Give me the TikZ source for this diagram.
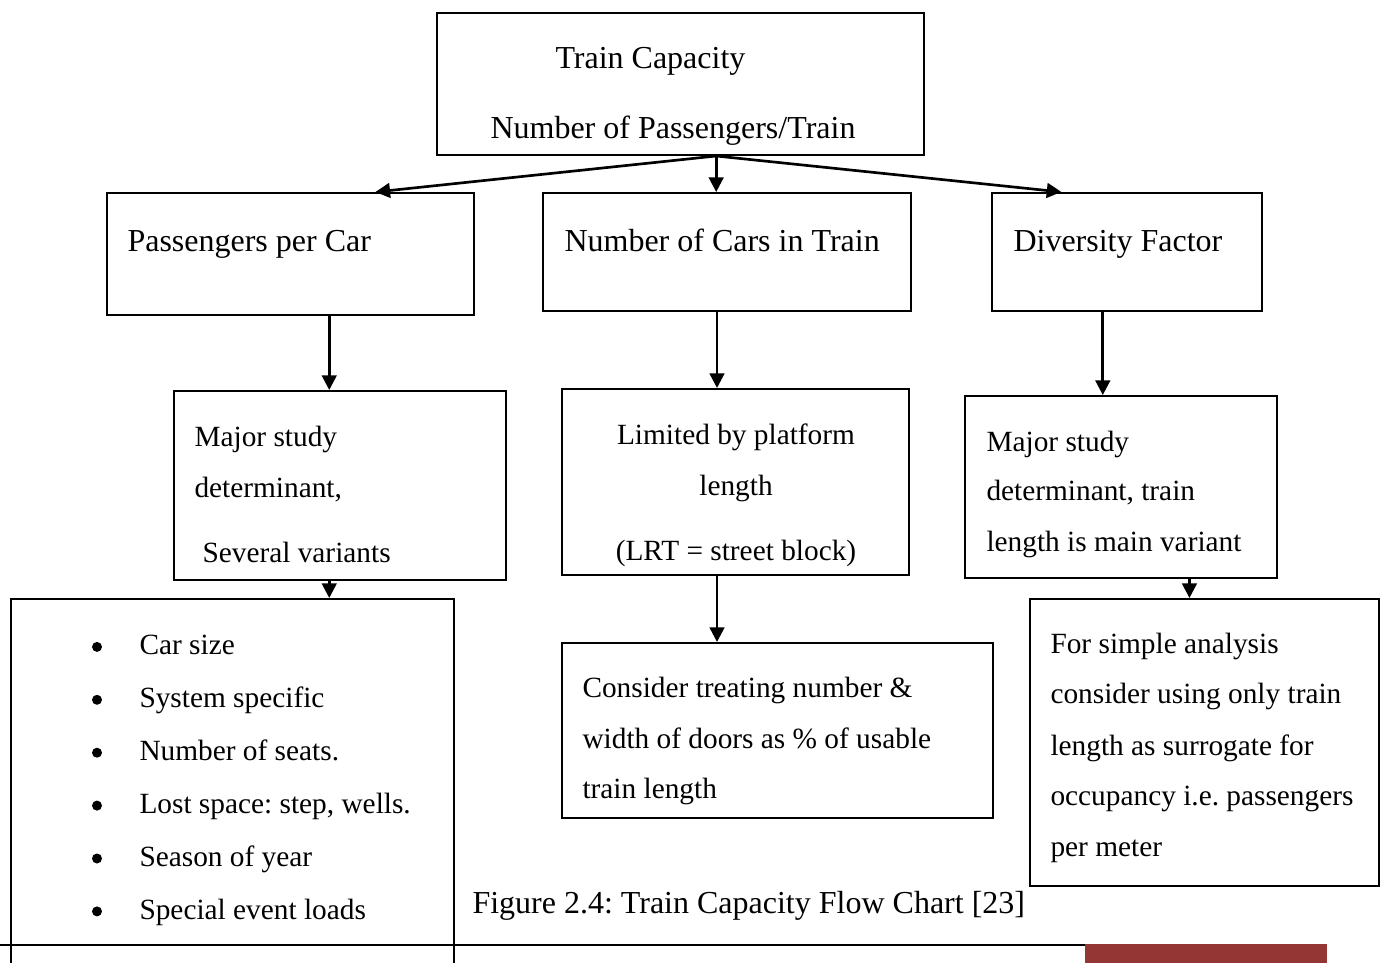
\documentclass[tikz,border=0pt]{standalone}
\usepackage{fontspec}
\setmainfont{Liberation Serif}
\usetikzlibrary{arrows.meta,calc}
\frenchspacing
\tikzset{every picture/.style={line width=0.75pt}}
\tikzset{
  box/.style 2 args={draw, line width=1.5pt, inner sep=0pt, minimum width=#1*0.75pt, minimum height=#2*0.75pt},
  txt/.style={anchor=base west, inner sep=0pt, font=\fontsize{24}{28}\selectfont},
  stxt/.style={anchor=base west, inner sep=0pt, font=\fontsize{22}{26}\selectfont},
  sctxt/.style={anchor=base, inner sep=0pt, font=\fontsize{22}{26}\selectfont},
  dot/.style={circle, fill, inner sep=0pt, minimum size=7.5pt},
  arr/.style={line width=2pt, -{Triangle[length=11pt,width=11pt]}}
}

\begin{document}
\begin{tikzpicture}[x=0.75pt,y=0.75pt,yscale=-1,xscale=1]
\useasboundingbox (0,0) rectangle (1385,963);
\clip (0,0) rectangle (1385,963);

%Boxes
\node[box={487}{142}] (cap) at (680.5,84) {};
\node[box={367}{122}] (ppc) at (290.5,254) {};
\node[box={368}{118}] (ncars) at (727,252) {};
\node[box={270}{118}] (div) at (1127,252) {};
\node[box={332}{189}] (det) at (340,485.5) {};
\node[box={347}{186}] (lim) at (735.5,482) {};
\node[box={312}{182}] (maj) at (1121,487) {};
\node[box={443}{391}] (list) at (232.5,794.5) {};
\node[box={431}{175}] (cons) at (777.5,730.5) {};
\node[box={349}{287}] (simple) at (1204.5,742.5) {};

% Text Nodes
\node[txt] (capa) at (555,69) {Train Capacity};
\node[txt] (capb) at (490,139) {Number of Passengers/Train};
\node[txt] (ppct) at (127,251) {Passengers per Car};
\node[txt] (ncarst) at (564,251) {Number of Cars in Train};
\node[txt] (divt) at (1013,251) {Diversity Factor};

\node[stxt] (deta) at (194,446) {Major study};
\node[stxt] (detb) at (194,497) {determinant,};
\node[stxt] (detc) at (202,562) {Several variants};

\node[sctxt] (lima) at (736,444) {Limited by platform};
\node[sctxt] (limb) at (736,495) {length};
\node[sctxt] (limc) at (736,560) {(LRT = street block)};

\node[stxt] (maja) at (986,451) {Major study};
\node[stxt] (majb) at (986,500) {determinant, train};
\node[stxt] (majc) at (986,551) {length is main variant};

\foreach \t [count=\i] in {Car size,System specific,Number of seats.,{Lost space: step, wells.},Season of year,Special event loads}
{
  \node[dot] (b\i) at (97,594+52.9*\i) {};
  \node[stxt] (l\i) at (139,602+52.9*\i) {\t};
}

\node[stxt] (consa) at (582,697) {Consider treating number \&};
\node[stxt] (consb) at (582,748) {width of doors as \% of usable};
\node[stxt] (consc) at (582,798) {train length};

\node[stxt] (sima) at (1050,653) {For simple analysis};
\node[stxt] (simb) at (1050,703) {consider using only train};
\node[stxt] (simc) at (1050,755) {length as surrogate for};
\node[stxt] (simd) at (1050,805) {occupancy i.e. passengers};
\node[stxt] (sime) at (1050,856) {per meter};

\node[txt] (fig) at (472,913) {Figure 2.4: Train Capacity Flow Chart [23]};

%Arrows
\coordinate (s0) at ($(cap.south west)!0.573!(cap.south east)$);
\draw[arr] (s0) -- ($(ppc.north west)!0.730!(ppc.north east)$);
\draw[arr] (s0) -- (s0 |- ncars.north);
\draw[arr] (s0) -- ($(div.north west)!0.259!(div.north east)$);

\coordinate (s1) at ($(ppc.south west)!0.605!(ppc.south east)$);
\draw[arr] (s1) -- (s1 |- det.north);
\coordinate (s2) at ($(ncars.south west)!0.473!(ncars.south east)$);
\draw[arr] (s2) -- (s2 |- lim.north);
\coordinate (s3) at ($(div.south west)!0.411!(div.south east)$);
\draw[arr] (s3) -- (s3 |- maj.north);

\coordinate (s4) at (s1 |- det.south);
\draw[arr] (s4) -- (s4 |- list.north);
\coordinate (s5) at (s2 |- lim.south);
\draw[arr] (s5) -- (s5 |- cons.north);
\coordinate (s6) at ($(maj.south west)!0.718!(maj.south east)$);
\draw[arr] (s6) -- (s6 |- simple.north);

%Page foot
\draw[line width=2pt] (0,945) -- (1085,945);
\fill[fill={rgb,255:red,148;green,54;blue,52}] (1085,944) rectangle (1327,965);

\end{tikzpicture}
\end{document}
